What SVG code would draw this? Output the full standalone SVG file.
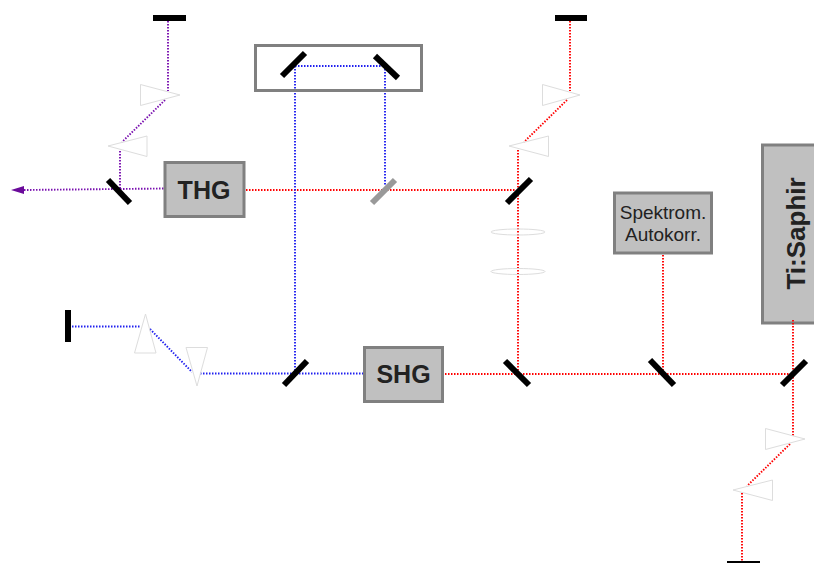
<svg xmlns="http://www.w3.org/2000/svg" width="814" height="563" viewBox="0 0 814 563">
<style>
.r{fill:none;stroke:#ff0000;stroke-width:1.9;stroke-dasharray:1.5 1.5}
.b{fill:none;stroke:#2020f0;stroke-width:1.9;stroke-dasharray:1.5 1.5}
.p{fill:none;stroke:#7a10b0;stroke-width:1.9;stroke-dasharray:1.5 1.5}
.m{stroke:#000;stroke-width:6;fill:none}
.g{stroke:#999;stroke-width:6;fill:none}
.o{fill:none;stroke:#ddd;stroke-width:1}
.box{fill:#c0c0c0;stroke:#808080;stroke-width:3}
.t{font-family:"Liberation Sans",Arial,sans-serif;fill:#222;text-anchor:middle}
.big{font-size:25px;font-weight:bold}
.sm{font-size:19px}
</style>
<g id="tisaphir"><rect class="box" x="762.500" y="145" width="60" height="178"/><text class="t big" style="font-size:26px" transform="translate(804.500 233.500) rotate(-90)">Ti:Saphir</text></g>
<g id="connectors">
<path class="p" d="M168 21V91M165 100L122 142M120 151V189M24 190L165 188.500"/>
<path class="r" d="M246 190H516M518 150V373M570 21V91M567 100L524 142M445 374H793M663 255V373M793 320V437M790 444L747 486M742 493V562"/>
<path class="b" d="M295 66H385M295 66V373M385 66V185M72 326.500H141M150 329L192 372M200 373.500H365"/>
<path d="M11 190L24 186V194Z" fill="#6a0a9a"/>
</g>
<g id="end-thg"><rect x="153" y="15" width="33" height="6"/></g>
<g id="end-red-top"><rect x="555" y="15" width="32" height="6"/></g>
<g id="end-blue"><rect x="65" y="310" width="6" height="32"/></g>
<g id="end-bottom"><rect x="727" y="561" width="33" height="2"/></g>
<g id="prism-1"><path class="o" d="M140.500 84.500L180 95L140.500 105.500Z"/></g>
<g id="prism-2"><path class="o" d="M108 146L147 136V156.500Z"/></g>
<g id="prism-3"><path class="o" d="M542.500 84.500L580 95L542.500 105.500Z"/></g>
<g id="prism-4"><path class="o" d="M509 146L548.500 136V156.500Z"/></g>
<g id="prism-5"><path class="o" d="M145.500 314L134.500 353H156Z"/></g>
<g id="prism-6"><path class="o" d="M186 347.500H207.500L197 386Z"/></g>
<g id="prism-7"><path class="o" d="M765.500 428.500L805 439L765.500 449.500Z"/></g>
<g id="prism-8"><path class="o" d="M733 490L772.500 480V500.500Z"/></g>
<g id="lens-1"><ellipse class="o" cx="518" cy="232" rx="27" ry="3"/></g>
<g id="lens-2"><ellipse class="o" cx="518" cy="271.500" rx="27" ry="3"/></g>
<g id="mirror-thg"><path class="m" d="M108 180L130 203"/></g>
<g id="delay-stage"><rect x="255.500" y="45.500" width="166" height="45" fill="none" stroke="#808080" stroke-width="3"/></g>
<g id="mirror-delay-1"><path class="m" d="M282 76L305 53"/></g>
<g id="mirror-delay-2"><path class="m" d="M375 56L398 78"/></g>
<g id="mirror-gray"><path class="g" d="M372 203L395 180"/></g>
<g id="mirror-red-top"><path class="m" d="M507 203L531 179"/></g>
<g id="mirror-blue"><path class="m" d="M284 385L307 361"/></g>
<g id="mirror-shg"><path class="m" d="M505 361L529 385"/></g>
<g id="mirror-spek"><path class="m" d="M650 360L674 385"/></g>
<g id="mirror-ti"><path class="m" d="M782 385L806 361"/></g>
<g id="thg"><rect class="box" x="165" y="162.500" width="79" height="54"/><text class="t big" x="204" y="199">THG</text></g>
<g id="shg"><rect class="box" x="364.500" y="347.500" width="78" height="54"/><text class="t big" x="403.500" y="383">SHG</text></g>
<g id="spektrom"><rect class="box" x="614.500" y="193" width="97" height="60"/><text class="t sm" x="663" y="219">Spektrom.</text><text class="t sm" x="663" y="241">Autokorr.</text></g>
</svg>
